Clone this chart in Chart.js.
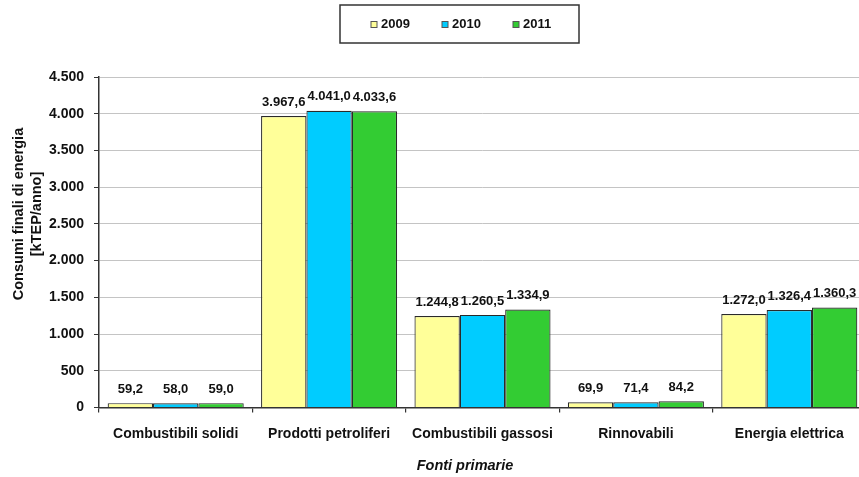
<!DOCTYPE html>
<html>
<head>
<meta charset="utf-8">
<script src="https://cdn.jsdelivr.net/npm/chart.js@4.4.1/dist/chart.umd.min.js"></script>
<style>
  html, body { margin: 0; padding: 0; overflow: hidden; background: #fff; }
  canvas { display: block; }
</style>
</head>
<body>
<canvas id="chart" width="870" height="477"></canvas>
<script>
// Consumi finali di energia per fonte primaria (kTEP/anno)
const categories = ['Combustibili solidi', 'Prodotti petroliferi', 'Combustibili gassosi', 'Rinnovabili', 'Energia elettrica'];
const years = ['2009', '2010', '2011'];
const values2009 = [59.2, 3967.6, 1244.8, 69.9, 1272.0];
const values2010 = [58.0, 4041.0, 1260.5, 71.4, 1326.4];
const values2011 = [59.0, 4033.6, 1334.9, 84.2, 1360.3];
const yTicks = [0, 500, 1000, 1500, 2000, 2500, 3000, 3500, 4000, 4500];
const yTitle = ['Consumi finali di energia', '[kTEP/anno]'];
const xTitle = 'Fonti primarie';

const seriesColors = ['#FFFF99', '#00CCFF', '#33CC33'];
const FONT = '"Liberation Sans", Arial, sans-serif';

// Italian number format: "." for thousands, "," for decimals
function fmtIt(v, dec) {
  const s = Number(v).toFixed(dec);
  const parts = s.split('.');
  const intPart = parts[0].replace(/\B(?=(\d{3})+(?!\d))/g, '.');
  return parts[1] ? intPart + ',' + parts[1] : intPart;
}

// value labels above every bar
const valueLabels = {
  id: 'valueLabels',
  afterDatasetsDraw(chart) {
    const ctx = chart.ctx;
    ctx.save();
    ctx.font = 'bold 13px ' + FONT;
    ctx.fillStyle = '#111';
    ctx.textAlign = 'center';
    ctx.textBaseline = 'middle';
    chart.data.datasets.forEach((ds, di) => {
      chart.getDatasetMeta(di).data.forEach((bar, i) => {
        ctx.fillText(fmtIt(ds.data[i], 1), bar.x, bar.y - 14);
      });
    });
    ctx.restore();
  }
};

// boxed legend at the top
const boxedLegend = {
  id: 'boxedLegend',
  afterDraw(chart) {
    const ctx = chart.ctx;
    const box = { x: 340, y: 5, w: 239, h: 38 };
    ctx.save();
    ctx.strokeStyle = '#333';
    ctx.lineWidth = 1.5;
    ctx.strokeRect(box.x, box.y, box.w, box.h);
    ctx.font = 'bold 13px ' + FONT;
    ctx.textBaseline = 'middle';
    ctx.textAlign = 'left';
    const cy = box.y + box.h / 2 + 0.5;
    chart.data.datasets.forEach((ds, i) => {
      const sx = 371 + i * 71;
      ctx.fillStyle = ds.backgroundColor;
      ctx.fillRect(sx, cy - 3, 6, 6);
      ctx.strokeStyle = '#555';
      ctx.lineWidth = 1;
      ctx.strokeRect(sx, cy - 3, 6, 6);
      ctx.fillStyle = '#111';
      ctx.fillText(ds.label, sx + 10, cy);
    });
    ctx.restore();
  }
};

// axis titles
const axisTitles = {
  id: 'axisTitles',
  afterDraw(chart) {
    const ctx = chart.ctx;
    ctx.save();
    ctx.fillStyle = '#111';
    ctx.textAlign = 'center';
    ctx.textBaseline = 'middle';
    ctx.font = 'bold 14.5px ' + FONT;
    ctx.translate(28, 214);
    ctx.rotate(-Math.PI / 2);
    ctx.fillText(yTitle[0], 0, -9);
    ctx.fillText(yTitle[1], 0, 8.5);
    ctx.restore();

    ctx.save();
    ctx.fillStyle = '#111';
    ctx.textAlign = 'center';
    ctx.textBaseline = 'middle';
    ctx.font = 'italic bold 14.5px ' + FONT;
    ctx.fillText(xTitle, 465, 466);
    ctx.restore();
  }
};

new Chart(document.getElementById('chart'), {
  type: 'bar',
  data: {
    labels: categories,
    datasets: [
      { label: years[0], data: values2009, backgroundColor: seriesColors[0] },
      { label: years[1], data: values2010, backgroundColor: seriesColors[1] },
      { label: years[2], data: values2011, backgroundColor: seriesColors[2] }
    ].map(d => Object.assign(d, {
      borderColor: '#2a2a2a',
      borderWidth: 1.2,
      categoryPercentage: 0.887,
      barPercentage: 1.0
    }))
  },
  options: {
    responsive: false,
    animation: false,
    devicePixelRatio: 1,
    layout: { padding: { top: 77, left: 0, right: 4, bottom: 0 } },
    plugins: {
      legend: { display: false },
      tooltip: { enabled: false }
    },
    scales: {
      x: {
        offset: true,
        grid: {
          offset: true,
          drawOnChartArea: false,
          tickLength: 5,
          tickColor: '#333',
          lineWidth: 1.2
        },
        border: { color: '#333', width: 1.5 },
        ticks: {
          color: '#111',
          font: { family: FONT, size: 14, weight: 'bold' },
          padding: 13,
          maxRotation: 0,
          autoSkip: false
        },
        afterFit(scale) { scale.height = 69.5; }
      },
      y: {
        min: 0,
        max: 4500,
        afterBuildTicks(scale) { scale.ticks = yTicks.map(v => ({ value: v })); },
        grid: {
          color: '#c4c4c4',
          lineWidth: 1,
          tickLength: 5,
          tickColor: '#333'
        },
        border: { color: '#333', width: 1.5 },
        ticks: {
          color: '#111',
          font: { family: FONT, size: 14, weight: 'bold' },
          padding: 10,
          callback: v => fmtIt(v, 0)
        },
        afterFit(scale) { scale.width = 99; }
      }
    }
  },
  plugins: [valueLabels, boxedLegend, axisTitles]
});
</script>
</body>
</html>
